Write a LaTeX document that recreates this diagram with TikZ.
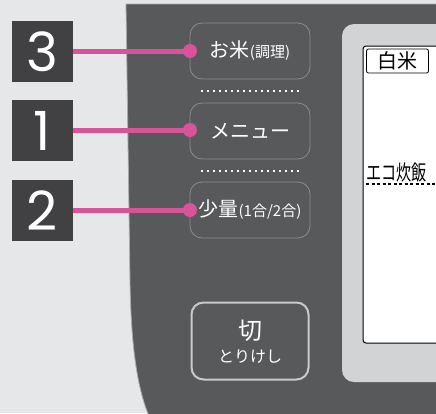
\documentclass[tikz,border=0pt]{standalone}
\usepackage{fontspec}
\setmainfont{Noto Sans CJK JP}
\newfontfamily\digitfont{Poppins}
\definecolor{bgc}{HTML}{E6E7E8}
\definecolor{panelc}{HTML}{58595B}
\definecolor{paneledge}{HTML}{A7A9AC}
\definecolor{numc}{HTML}{414042}
\definecolor{pinkc}{HTML}{D9539A}
\definecolor{btnedge}{HTML}{8A8C8E}
\definecolor{btnedge2}{HTML}{C9CACC}
\definecolor{framec}{HTML}{D1D3D4}
\tikzset{
  numbox/.style={fill=numc, text=white, minimum width=61pt, minimum height=61pt, inner sep=0pt, font=\digitfont\fontsize{54}{54}\selectfont},
  pinkline/.style={draw=pinkc, line width=5pt},
  pinkdot/.style={circle, fill=pinkc, minimum size=14pt, inner sep=0pt},
  btn/.style={draw=btnedge, line width=0.8pt, rounded corners=12pt, minimum width=120pt, minimum height=56pt, inner sep=0pt, text=white},
  btnoff/.style={draw=btnedge2, line width=2pt, rounded corners=12pt, minimum width=117pt, minimum height=77pt, inner sep=0pt, text=white},
  dotline/.style={draw=white, line width=2pt, dash pattern=on 2pt off 4pt},
}
\newcommand{\bigj}[1]{{\fontsize{20}{20}\selectfont #1}}
\newcommand{\smallj}[1]{{\fontsize{15}{15}\selectfont #1}}
\begin{document}
\begin{tikzpicture}[x=1pt,y=-1pt]
\useasboundingbox (0,0) rectangle (436,413);
\fill[bgc] (0,0) rectangle (436,413);
\begin{scope}
\clip (0,0) rectangle (436,413);
% panel
\path[fill=panelc, draw=paneledge, line width=0.8pt]
  (440,4) -- (126,4) -- (130,280) .. controls (131,350) and (138,390) .. (149,416) -- (440,416) -- cycle;
% display frame
\fill[framec, rounded corners=12pt] (342,24) rectangle (460,382);
\draw[black, fill=white, line width=1pt, rounded corners=3pt] (363,46) rectangle (460,343);
\node[draw=black, fill=white, line width=0.8pt, rounded corners=2pt, minimum width=62pt, minimum height=24pt, inner sep=0pt, font=\fontsize{20}{20}\selectfont] (hakumai) at (397.5,61) {白米};
\node[anchor=south west, inner sep=0pt, font=\fontsize{21}{21}\selectfont] (eco) at (366,182) {\scalebox{0.72}[1]{エコ炊飯}};
\coordinate (ecoA) at (366,184);
\coordinate (ecoB) at (440,184);
\draw[black, line width=1.3pt, dash pattern=on 3pt off 2.5pt] (ecoA) -- (ecoB);
\end{scope}
% buttons
\node[btn] (b3) at (250,51) {\bigj{お米}\smallj{(調理)}};
\node[btn] (b1) at (250,131) {\bigj{メニュー}};
\node[btn] (b2) at (250,210) {\bigj{少量}\smallj{(1合/2合)}};
\node[btnoff] (b4) at (250,341) {};
\node[text=white, font=\fontsize{24}{24}\selectfont] (kiri) at (250,331) {切};
\node[text=white, font=\fontsize{16}{16}\selectfont] (torikeshi) at (250,357) {とりけし};
% dotted separators
\coordinate (s1a) at (201,91); \coordinate (s1b) at (301,91);
\coordinate (s2a) at (201,171); \coordinate (s2b) at (301,171);
\draw[dotline] (s1a) -- (s1b);
\draw[dotline] (s2a) -- (s2b);
% number boxes
\node[numbox] (n3) at (42.5,51.5) {3};
\node[numbox] (n1) at (42.5,130.5) {1};
\node[numbox] (n2) at (42.5,210.5) {2};
% dots and connectors
\node[pinkdot] (d3) at (190,51) {};
\node[pinkdot] (d1) at (190,130) {};
\node[pinkdot] (d2) at (190,210) {};
\draw[pinkline] (n3.east |- d3) -- (d3.center);
\draw[pinkline] (n1.east |- d1) -- (d1.center);
\draw[pinkline] (n2.east |- d2) -- (d2.center);
\end{tikzpicture}
\end{document}
